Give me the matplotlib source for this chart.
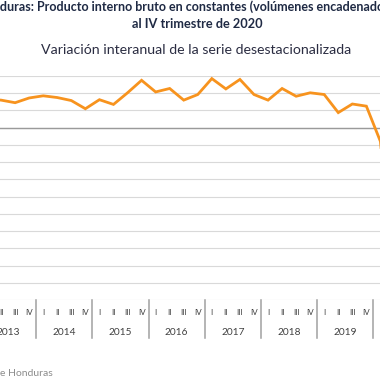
import matplotlib
matplotlib.use('Agg')
import matplotlib.pyplot as plt

# datos: variación interanual (%) de la serie desestacionalizada
years = ['2013', '2014', '2015', '2016', '2017', '2018', '2019', '2020']
quarters = ['I', 'II', 'III', 'IV']
values = [3.3, 3.2, 2.9, 3.45, 3.7, 3.5, 3.15, 2.2,
          3.25, 2.7, 4.05, 5.5, 4.15, 4.55, 3.2, 3.85,
          5.7, 4.5, 5.6, 3.85, 3.2, 4.55, 3.65, 4.05,
          3.85, 1.75, 2.75, 2.5, -1.6, -18.6, -9.5, -5.1]

title1 = 'Honduras: Producto interno bruto en constantes (volúmenes encadenados)'
title2 = 'al IV trimestre de 2020'
subtitle = 'Variación interanual de la serie desestacionalizada'
source = 'Fuente: Banco Central de Honduras'

W = H = 380
fig = plt.figure(figsize=(3.8, 3.8), dpi=100)
plt.rcParams['font.family'] = ['Lato', 'DejaVu Sans']

# eje recortado a propósito (igual que la imagen original)
left_px, right_px = -20, 429.6
top_px, bottom_px = 76, 300
ax = fig.add_axes([left_px / W, 1 - bottom_px / H,
                   (right_px - left_px) / W, (bottom_px - top_px) / H])

x = list(range(len(values)))
ax.plot(x, values, color='#F7931E', linewidth=2.0, solid_joinstyle='miter', zorder=3)

ax.set_xlim(-0.5, len(values) - 0.5)
ax.set_ylim(-20, 6)
ax.set_yticks(range(-20, 7, 2))
ax.yaxis.grid(True, color='#D9D9D9', linewidth=0.8)
ax.axhline(0, color='#9A9A9A', linewidth=1.0, zorder=2)
ax.set_xticks([])
ax.tick_params(left=False, labelleft=False)
for s in ax.spines.values():
    s.set_visible(False)

# etiquetas de trimestres y años
tr = ax.get_xaxis_transform()
for i, yr in enumerate(years):
    for j, q in enumerate(quarters):
        ax.text(i * 4 + j, -0.058, q, transform=tr, ha='center', va='center',
                fontsize=5.8, color='#404040', clip_on=False)
    ax.text(i * 4 + 1.5, -0.143, yr, transform=tr, ha='center', va='center',
            fontsize=7.3, color='#404040', clip_on=False)
    ax.plot([i * 4 - 0.5] * 2, [0, -0.17], transform=tr, color='#A0A0A0',
            linewidth=1.1, clip_on=False)

renderer = fig.canvas.get_renderer()


def cropped_text(text, hidden, y, **kw):
    t = fig.text(0, y, hidden, **kw)
    w = t.get_window_extent(renderer).width / W
    t.remove()
    fig.text(-w, y, text, ha='left', va='center', **kw)


cropped_text(title1, 'Hon', 1 - 7 / H, fontsize=9.0, fontweight='bold', color='#1F2A44')
fig.text(197 / W, 1 - 24 / H, title2, ha='center', va='center',
         fontsize=9.2, fontweight='bold', color='#1F2A44')
fig.text(196 / W, 1 - 49.5 / H, subtitle, ha='center', va='center',
         fontsize=10.2, color='#2B2D42')
cropped_text(source, 'Fuente: Banco Central d', 1 - 373 / H, fontsize=7.5, color='#8C8C8C')

fig.savefig('out.png', dpi=100)
